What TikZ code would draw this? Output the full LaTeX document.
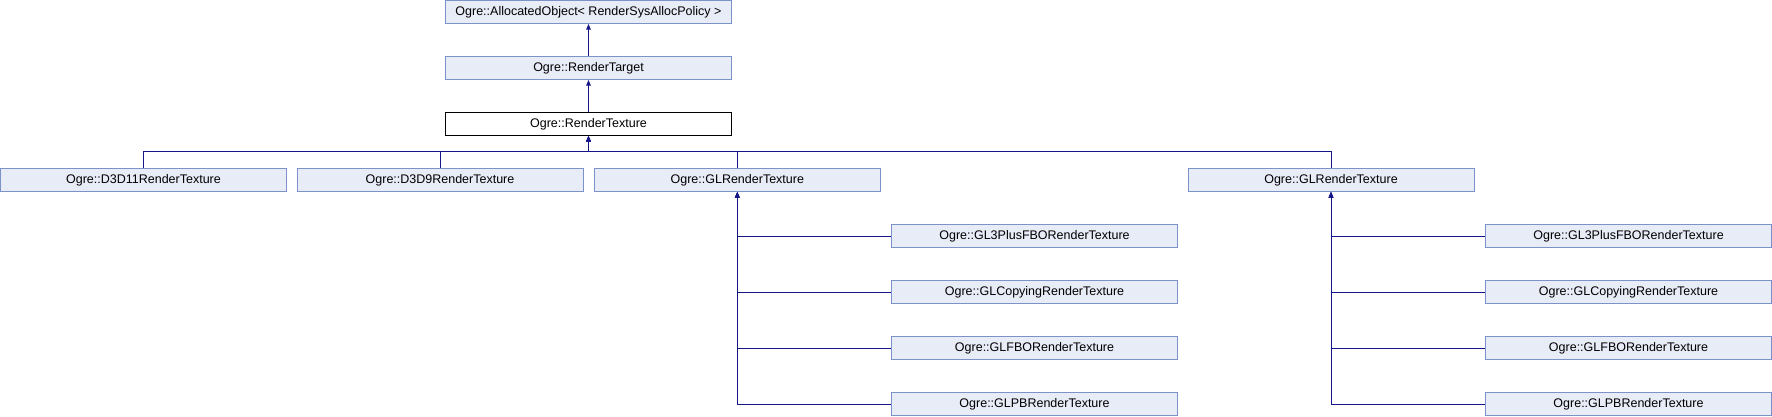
\documentclass[tikz,border=0pt]{standalone}
\usepackage{fontspec}
\setmainfont{Liberation Sans}
\usetikzlibrary{arrows.meta}
\definecolor{fillc}{RGB}{232,236,246}
\definecolor{bordc}{RGB}{124,147,202}
\definecolor{edgec}{RGB}{22,22,135}
\tikzset{
  box/.style={draw=bordc, fill=fillc, line width=1pt, minimum width=286pt, minimum height=23pt, inner sep=0pt, font=\fontsize{12.5}{14}\selectfont},
  curbox/.style={box, draw=black, fill=white},
  inh/.style={draw=edgec, line width=1pt, arrows={Triangle[width=4.5pt,length=5.5pt]-}}
}
\begin{document}
\begin{tikzpicture}[x=1pt,y=-1pt]
\useasboundingbox (0,0) rectangle (1772,416);
\node[box] (ao) at (588.5,12) {Ogre::AllocatedObject< RenderSysAllocPolicy >};
\node[box] (rtg) at (588.5,68) {Ogre::RenderTarget};
\node[curbox] (rtx) at (588.5,124) {Ogre::RenderTexture};
\node[box] (d11) at (143.5,180) {Ogre::D3D11RenderTexture};
\node[box] (d9) at (440,180) {Ogre::D3D9RenderTexture};
\node[box] (gla) at (737.3,180) {Ogre::GLRenderTexture};
\node[box] (glb) at (1331,180) {Ogre::GLRenderTexture};
\node[box] (a1) at (1034.5,236) {Ogre::GL3PlusFBORenderTexture};
\node[box] (a2) at (1034.5,292) {Ogre::GLCopyingRenderTexture};
\node[box] (a3) at (1034.5,348) {Ogre::GLFBORenderTexture};
\node[box] (a4) at (1034.5,404) {Ogre::GLPBRenderTexture};
\node[box] (b1) at (1628.5,236) {Ogre::GL3PlusFBORenderTexture};
\node[box] (b2) at (1628.5,292) {Ogre::GLCopyingRenderTexture};
\node[box] (b3) at (1628.5,348) {Ogre::GLFBORenderTexture};
\node[box] (b4) at (1628.5,404) {Ogre::GLPBRenderTexture};
\coordinate (bus) at (588.5,151.7);
\draw[inh] (ao.south) -- (rtg.north);
\draw[inh] (rtg.south) -- (rtx.north);
\foreach \c in {d11,d9,gla,glb} {
  \draw[inh] (rtx.south) -- (bus) -| (\c.north);
}
\foreach \c in {a1,a2,a3,a4} {
  \draw[inh] (gla.south) |- (\c.west);
}
\foreach \c in {b1,b2,b3,b4} {
  \draw[inh] (glb.south) |- (\c.west);
}
\end{tikzpicture}
\end{document}
